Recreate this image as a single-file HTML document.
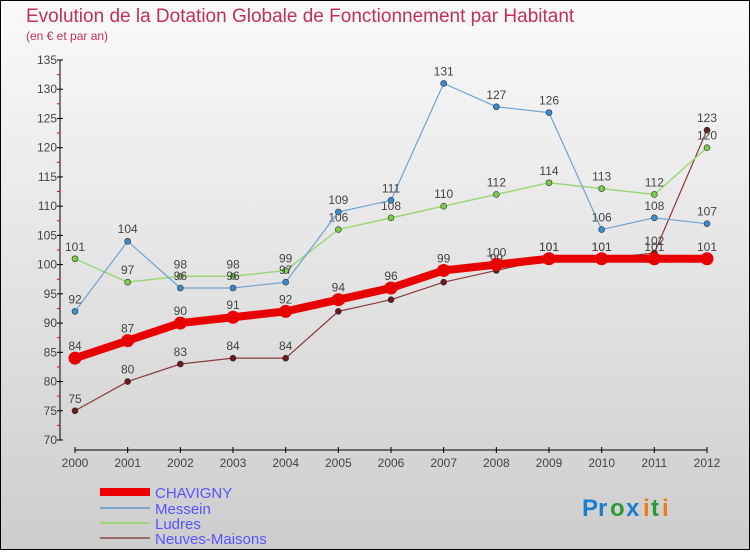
<!DOCTYPE html>
<html><head><meta charset="utf-8"><style>
body{margin:0;width:750px;height:550px;overflow:hidden;font-family:"Liberation Sans",sans-serif}
svg text{font-family:"Liberation Sans",sans-serif}
</style></head><body>
<svg id="chart" width="750" height="550">
<defs><linearGradient id="bg" x1="0" y1="0" x2="0" y2="1"><stop offset="0" stop-color="#fafafa"/><stop offset="1" stop-color="#cdcdcd"/></linearGradient></defs>
<rect x="0.5" y="0.5" width="749" height="549" fill="url(#bg)" stroke="#000"/>
<text x="26" y="22" font-size="19" fill="#c0305a">Evolution de la Dotation Globale de Fonctionnement par Habitant</text>
<text x="26" y="40" font-size="12" fill="#c0305a">(en € et par an)</text>
<g id="axes"></g><g id="series"></g>
<g>
<rect x="100" y="488" width="50" height="8" fill="#e00"/>
<text x="155" y="498" font-size="15" fill="#5555ff">CHAVIGNY</text>
<line x1="100" y1="508" x2="150" y2="508" stroke="#7aa7cf" stroke-width="2"/>
<text x="155" y="514" font-size="15" fill="#5555ff">Messein</text>
<line x1="100" y1="523" x2="150" y2="523" stroke="#9ed77a" stroke-width="2"/>
<text x="155" y="529" font-size="15" fill="#5555ff">Ludres</text>
<line x1="100" y1="538" x2="150" y2="538" stroke="#9a6a6a" stroke-width="2"/>
<text x="155" y="544" font-size="15" fill="#5555ff">Neuves-Maisons</text>
</g>
<g font-size="24" font-weight="bold">
<text x="582" y="516" fill="#1a7fd0">Pr</text><text x="610" y="516" fill="#2a9a3a">o</text><text x="626" y="516" fill="#1a7fd0">x</text><text x="643" y="516" fill="#f07a10">i</text><text x="651" y="516" fill="#2a9a3a">t</text><text x="662" y="516" fill="#f07a10">i</text>
</g>
</svg>
<script>
const years=[2000,2001,2002,2003,2004,2005,2006,2007,2008,2009,2010,2011,2012];
const chavigny=[84,87,90,91,92,94,96,99,100,101,101,101,101];
const messein=[92,104,96,96,97,109,111,131,127,126,106,108,107];
const ludres=[101,97,98,98,99,106,108,110,112,114,113,112,120];
const neuves=[75,80,83,84,84,92,94,97,99,101,101,102,123];
const yTicks=[70,75,80,85,90,95,100,105,110,115,120,125,130,135];
const NS='http://www.w3.org/2000/svg';
const X=i=>75+i*(707-75)/(years.length-1);
const Y=v=>440-(v-70)*380/65;
function mk(tag,attrs,parent){const e=document.createElementNS(NS,tag);for(const k in attrs)e.setAttribute(k,attrs[k]);parent.appendChild(e);return e;}
const ax=document.getElementById('axes');
let l=mk('line',{x1:60,y1:60,x2:60,y2:440,stroke:'#000'},ax);


yTicks.forEach(v=>{
 mk('line',{x1:57,y1:Y(v),x2:63,y2:Y(v),stroke:'#000'},ax);
 if(v<135) mk('line',{x1:57,y1:Y(v+2.5),x2:60,y2:Y(v+2.5),stroke:'#e00'},ax);
 const t=mk('text',{x:57,y:Y(v)+4,'font-size':12,fill:'#444','text-anchor':'end'},ax);t.textContent=v;
 
 
});
l=mk('line',{x1:75,y1:450,x2:707,y2:450,stroke:'#000'},ax);


years.forEach((y,i)=>{
 mk('line',{x1:X(i),y1:447,x2:X(i),y2:453,stroke:'#000'},ax);
 const t=mk('text',{x:X(i),y:467,'font-size':12,fill:'#444','text-anchor':'middle'},ax);t.textContent=y;
 
 
});
const sg=document.getElementById('series');
function draw(vals,color,w,r,dot,name){
 const g=mk('g',{},sg);
 
 
 mk('polyline',{points:vals.map((v,i)=>X(i)+','+Y(v)).join(' '),fill:'none',stroke:color,'stroke-width':w,'stroke-linejoin':'round'},g);
 vals.forEach((v,i)=>{
  const c=mk('circle',{cx:X(i),cy:Y(v),r:r,fill:dot,stroke:'#333','stroke-width':r>5?0:0.6},g);
  
  
  const t=mk('text',{x:X(i),y:Y(v)-8,'font-size':12,fill:'#444','text-anchor':'middle'},g);t.textContent=v;
 });
}
draw(neuves,'#8a3a3a',1.2,3,'#6a1a1a','series-neuves-maisons');
draw(ludres,'#9ed77a',1.5,3,'#7ccc4c','series-ludres');
draw(messein,'#6fa3d3',1.2,3,'#3a8ad0','series-messein');
draw(chavigny,'#e80000',8,6.5,'#e80000','series-chavigny');
</script>
</body></html>
